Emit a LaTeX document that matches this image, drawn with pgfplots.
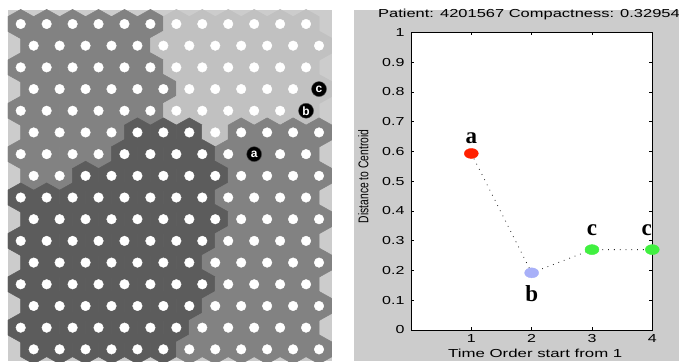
\documentclass[border=0pt]{standalone}
\usepackage{fontspec}
\setmainfont{Liberation Sans}
\newfontfamily\serifbold{Liberation Serif}
\usepackage{graphicx}
\usepackage{pgfplots}
\usepackage{pgfplotstable}
\pgfplotsset{compat=1.18}
\definecolor{cD}{RGB}{92,92,92}
\definecolor{cM}{RGB}{130,130,130}
\definecolor{cL}{RGB}{193,193,193}
\definecolor{cBG}{RGB}{204,204,204}
\definecolor{figgray}{RGB}{204,204,204}
\definecolor{ptA}{RGB}{255,32,0}
\definecolor{ptB}{RGB}{168,176,248}
\definecolor{ptC}{RGB}{64,240,64}
\pgfdeclareplotmark{hexa}{%
  \pgfpathmoveto{\pgfqpoint{0pt}{14.6pt}}%
  \pgfpathlineto{\pgfqpoint{13.07pt}{7.3pt}}%
  \pgfpathlineto{\pgfqpoint{13.07pt}{-7.3pt}}%
  \pgfpathlineto{\pgfqpoint{0pt}{-14.6pt}}%
  \pgfpathlineto{\pgfqpoint{-13.07pt}{-7.3pt}}%
  \pgfpathlineto{\pgfqpoint{-13.07pt}{7.3pt}}%
  \pgfpathclose\pgfusepathqfillstroke}
\pgfplotstableread[row sep=\\]{
x y c\\
0 0 M\\1 0 M\\2 0 M\\3 0 M\\4 0 M\\5 0 M\\6 0 L\\7 0 L\\8 0 L\\9 0 L\\10 0 L\\11 0 L\\
0.5 -1 M\\1.5 -1 M\\2.5 -1 M\\3.5 -1 M\\4.5 -1 M\\5.5 -1 L\\6.5 -1 L\\7.5 -1 L\\8.5 -1 L\\9.5 -1 L\\10.5 -1 L\\11.5 -1 L\\
0 -2 M\\1 -2 M\\2 -2 M\\3 -2 M\\4 -2 M\\5 -2 M\\6 -2 L\\7 -2 L\\8 -2 L\\9 -2 L\\10 -2 L\\11 -2 L\\
0.5 -3 M\\1.5 -3 M\\2.5 -3 M\\3.5 -3 M\\4.5 -3 M\\5.5 -3 M\\6.5 -3 L\\7.5 -3 L\\8.5 -3 L\\9.5 -3 L\\10.5 -3 L\\11.5 -3 L\\
0 -4 M\\1 -4 M\\2 -4 M\\3 -4 M\\4 -4 M\\5 -4 M\\6 -4 L\\7 -4 L\\8 -4 L\\9 -4 L\\10 -4 L\\11 -4 L\\
0.5 -5 M\\1.5 -5 M\\2.5 -5 M\\3.5 -5 M\\4.5 -5 D\\5.5 -5 D\\6.5 -5 D\\7.5 -5 L\\8.5 -5 M\\9.5 -5 M\\10.5 -5 M\\11.5 -5 M\\
0 -6 M\\1 -6 M\\2 -6 M\\3 -6 M\\4 -6 D\\5 -6 D\\6 -6 D\\7 -6 D\\8 -6 M\\9 -6 M\\10 -6 M\\11 -6 M\\
0.5 -7 M\\1.5 -7 M\\2.5 -7 D\\3.5 -7 D\\4.5 -7 D\\5.5 -7 D\\6.5 -7 D\\7.5 -7 D\\8.5 -7 M\\9.5 -7 M\\10.5 -7 M\\11.5 -7 M\\
0 -8 D\\1 -8 D\\2 -8 D\\3 -8 D\\4 -8 D\\5 -8 D\\6 -8 D\\7 -8 D\\8 -8 M\\9 -8 M\\10 -8 M\\11 -8 M\\
0.5 -9 D\\1.5 -9 D\\2.5 -9 D\\3.5 -9 D\\4.5 -9 D\\5.5 -9 D\\6.5 -9 D\\7.5 -9 D\\8.5 -9 M\\9.5 -9 M\\10.5 -9 M\\11.5 -9 M\\
0 -10 D\\1 -10 D\\2 -10 D\\3 -10 D\\4 -10 D\\5 -10 D\\6 -10 D\\7 -10 D\\8 -10 M\\9 -10 M\\10 -10 M\\11 -10 M\\
0.5 -11 D\\1.5 -11 D\\2.5 -11 D\\3.5 -11 D\\4.5 -11 D\\5.5 -11 D\\6.5 -11 D\\7.5 -11 M\\8.5 -11 M\\9.5 -11 M\\10.5 -11 M\\11.5 -11 M\\
0 -12 D\\1 -12 D\\2 -12 D\\3 -12 D\\4 -12 D\\5 -12 D\\6 -12 D\\7 -12 D\\8 -12 M\\9 -12 M\\10 -12 M\\11 -12 M\\
0.5 -13 D\\1.5 -13 D\\2.5 -13 D\\3.5 -13 D\\4.5 -13 D\\5.5 -13 D\\6.5 -13 D\\7.5 -13 M\\8.5 -13 M\\9.5 -13 M\\10.5 -13 M\\11.5 -13 M\\
0 -14 D\\1 -14 D\\2 -14 D\\3 -14 D\\4 -14 D\\5 -14 D\\6 -14 D\\7 -14 M\\8 -14 M\\9 -14 M\\10 -14 M\\11 -14 M\\
0.5 -15 D\\1.5 -15 D\\2.5 -15 D\\3.5 -15 D\\4.5 -15 D\\5.5 -15 D\\6.5 -15 M\\7.5 -15 M\\8.5 -15 M\\9.5 -15 M\\10.5 -15 M\\11.5 -15 M\\
}\cells
\pgfplotstableread[row sep=\\]{
x y c\\
1 0.593 a\\
2 0.192 b\\
3 0.270 c\\
4 0.270 c\\
}\dist
\begin{document}
\begin{tikzpicture}
\useasboundingbox (0pt,0pt) rectangle (679pt,361pt);
\fill[cBG] (8pt,0pt) rectangle (332pt,351pt);
\fill[figgray] (354pt,0pt) rectangle (679pt,351pt);
\begin{axis}[at={(8pt,0pt)}, anchor=south west,
  x=25.94pt, y=21.69pt, xmin=-0.49, xmax=12, ymin=-15.537, ymax=0.6455,
  hide axis, clip marker paths=true]
\addplot[scatter, only marks, scatter src=explicit symbolic,
  scatter/classes={D={mark=hexa,draw=cD,fill=cD,line width=0.5pt},
                   M={mark=hexa,draw=cM,fill=cM,line width=0.5pt},
                   L={mark=hexa,draw=cL,fill=cL,line width=0.5pt}}]
  table[x=x,y=y,meta=c]{\cells};
\addplot[only marks, mark=*, mark size=4.8pt, mark options={draw=white, fill=white}]
  table[x=x,y=y]{\cells};
\addplot[only marks, mark=*, mark size=7.5pt, mark options={fill=black, draw=black!70},
  nodes near coords, point meta=explicit symbolic,
  nodes near coords style={anchor=center, text=white, inner sep=0pt,
    font=\bfseries\fontsize{12}{12}\selectfont}]
  coordinates {(9,-6)[a] (11,-4)[b] (11.5,-3)[c]};
\end{axis}
\begin{axis}[at={(411pt,31pt)}, anchor=south west, scale only axis,
  width=241.3pt, height=297.7pt,
  xmin=0, xmax=4, ymin=0, ymax=1,
  xtick={1,2,3,4}, ytick={0,0.1,0.2,0.3,0.4,0.5,0.6,0.7,0.8,0.9,1},
  tick align=inside, major tick length=3pt,
  tick style={black, line width=0.6pt},
  axis line style={line width=0.8pt},
  axis background/.style={fill=white},
  clip=false,
  tick label style={font=\fontsize{11.6}{13}\selectfont},
  yticklabel={\scalebox{1.38}[1]{\pgfmathprintnumber[assume math mode=true,fixed,precision=1]{\tick}}},
  xticklabel={\scalebox{1.38}[1]{\pgfmathprintnumber[assume math mode=true]{\tick}}},
  yticklabel style={xshift=-3pt},
  xticklabel style={yshift=-1.3pt},
  title={\scalebox{1.42}[1]{Patient: 4201567 Compactness: 0.32954}},
  title style={at={(axis description cs:0.489,1.0302)}, anchor=base, inner sep=0pt,
    font=\fontsize{11.6}{13}\selectfont},
  xlabel={\scalebox{1.45}[1]{Time Order start from 1}},
  xlabel style={at={(axis description cs:0.515,-0.093)}, anchor=base, inner sep=0pt,
    font=\fontsize{11.6}{13}\selectfont},
  ylabel={\scalebox{1}[1.37]{Distance to Centroid}},
  ylabel style={at={(axis description cs:-0.198,0.516)}, anchor=center, inner sep=0pt,
    font=\fontsize{10.3}{12}\selectfont},
]
\addplot[black!85, line width=0.8pt, dash pattern=on 0.8pt off 5pt] table[x=x,y=y]{\dist};
\addplot[scatter, only marks, mark=*, mark size=5pt, scatter src=explicit symbolic,
  mark options={xscale=1.4},
  scatter/classes={a={draw=ptA,fill=ptA}, b={draw=ptB,fill=ptB}, c={draw=ptC,fill=ptC}}]
  table[x=x,y=y,meta=c]{\dist};
\addplot[draw=none, mark=none, nodes near coords, point meta=explicit symbolic,
  nodes near coords style={anchor=base, text=black, inner sep=0pt,
    font=\serifbold\bfseries\fontsize{23}{23}\selectfont}]
  coordinates {(1,0.627)[a] (2,0.095)[b] (3,0.319)[c] (3.907,0.319)[c]};
\end{axis}
\end{tikzpicture}
\end{document}
